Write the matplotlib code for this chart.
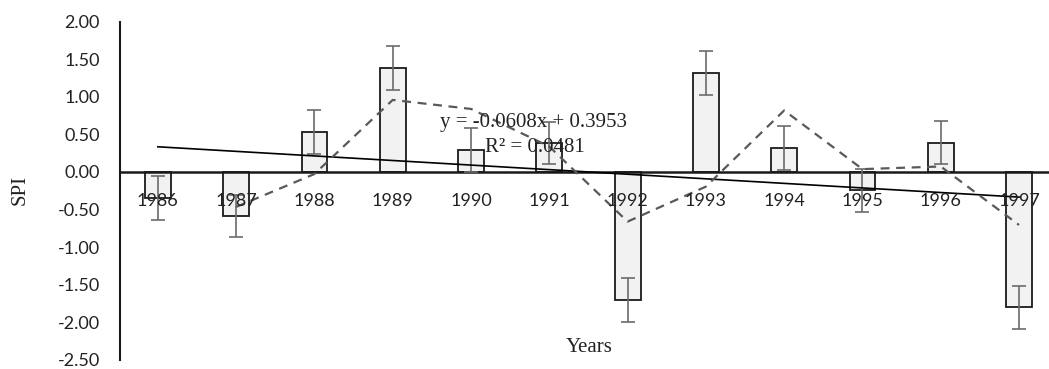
import numpy as np
import pandas as pd
import matplotlib
matplotlib.use("Agg")
import matplotlib.pyplot as plt

# SPI by year, with standard error bars
years = ["1986", "1987", "1988", "1989", "1990", "1991",
         "1992", "1993", "1994", "1995", "1996", "1997"]
spi = [-0.345, -0.585, 0.53, 1.385, 0.29, 0.385,
       -1.705, 1.315, 0.32, -0.245, 0.39, -1.80]
spi_err = [0.29, 0.28, 0.29, 0.29, 0.29, 0.28,
           0.29, 0.29, 0.29, 0.29, 0.29, 0.29]

# Linear trend reported on the chart
trend_slope = -0.0608
trend_intercept = 0.3953
trend_r2 = 0.0481

yticks = [2.0, 1.5, 1.0, 0.5, 0.0, -0.5, -1.0, -1.5, -2.0, -2.5]

sans = "Lato"
serif = "Liberation Serif"
W, H = 1049, 369

fig = plt.figure(figsize=(W / 100, H / 100), dpi=100)
ax = fig.add_axes([119.5 / W, 1 - 360 / H, (1048 - 119.5) / W, (360 - 21.5) / H])

# Category axis sits on the zero line
for side in ["top", "right"]:
    ax.spines[side].set_visible(False)
ax.spines["bottom"].set_position(("data", 0))
ax.spines["bottom"].set_linewidth(1.8)
ax.spines["bottom"].set_color("#1a1a1a")
ax.spines["left"].set_linewidth(1.5)
ax.spines["left"].set_color("#1a1a1a")

x = np.arange(len(years))

ax.bar(x, spi, width=0.33, color="#f2f2f2", edgecolor="#1a1a1a",
       linewidth=1.3, zorder=2)
ax.errorbar(x, spi, yerr=spi_err, fmt="none", ecolor="#6b6b6b",
            elinewidth=1.2, capsize=5, capthick=1.2, zorder=3)

# Linear trend over the year index 1..12
idx = x + 1
ax.plot(x, trend_slope * idx + trend_intercept, color="black",
        linewidth=1.2, zorder=4)

# Two-period moving average
ma = pd.Series(spi).rolling(2).mean()
ax.plot(x, ma, color="#595959", linewidth=1.6, linestyle=(0, (4, 3)), zorder=4)

fig.text(534 / W, 1 - 122 / H, f"y = {trend_slope:.4f}x + {trend_intercept:.4f}",
         ha="center", va="center", fontsize=15, family=serif,
         color="#222222", zorder=5)
fig.text(535 / W, 1 - 147 / H, f"R² = {trend_r2:.4f}",
         ha="center", va="center", fontsize=15, family=serif,
         color="#222222", zorder=5)

ax.set_xlim(-0.49, 11.37)
ax.set_ylim(-2.5, 2.0)
ax.set_yticks(yticks)
ax.set_yticklabels([f"{v:.2f}" for v in yticks], family=sans, fontsize=13,
                   color="#222222")
ax.set_xticks(x)
ax.set_xticklabels(years, family=sans, fontsize=13, color="#222222")
ax.tick_params(axis="y", length=0, pad=14)
ax.tick_params(axis="x", length=0, pad=15)
ax.xaxis.set_zorder(5)

fig.text(20 / W, 1 - 190 / H, "SPI", rotation=90, ha="center",
         va="center", fontsize=15, family=serif, color="#222222")
fig.text(589 / W, 1 - 347 / H, "Years", ha="center", va="center",
         fontsize=15, family=serif, color="#222222")

fig.savefig("out.png", dpi=100)
